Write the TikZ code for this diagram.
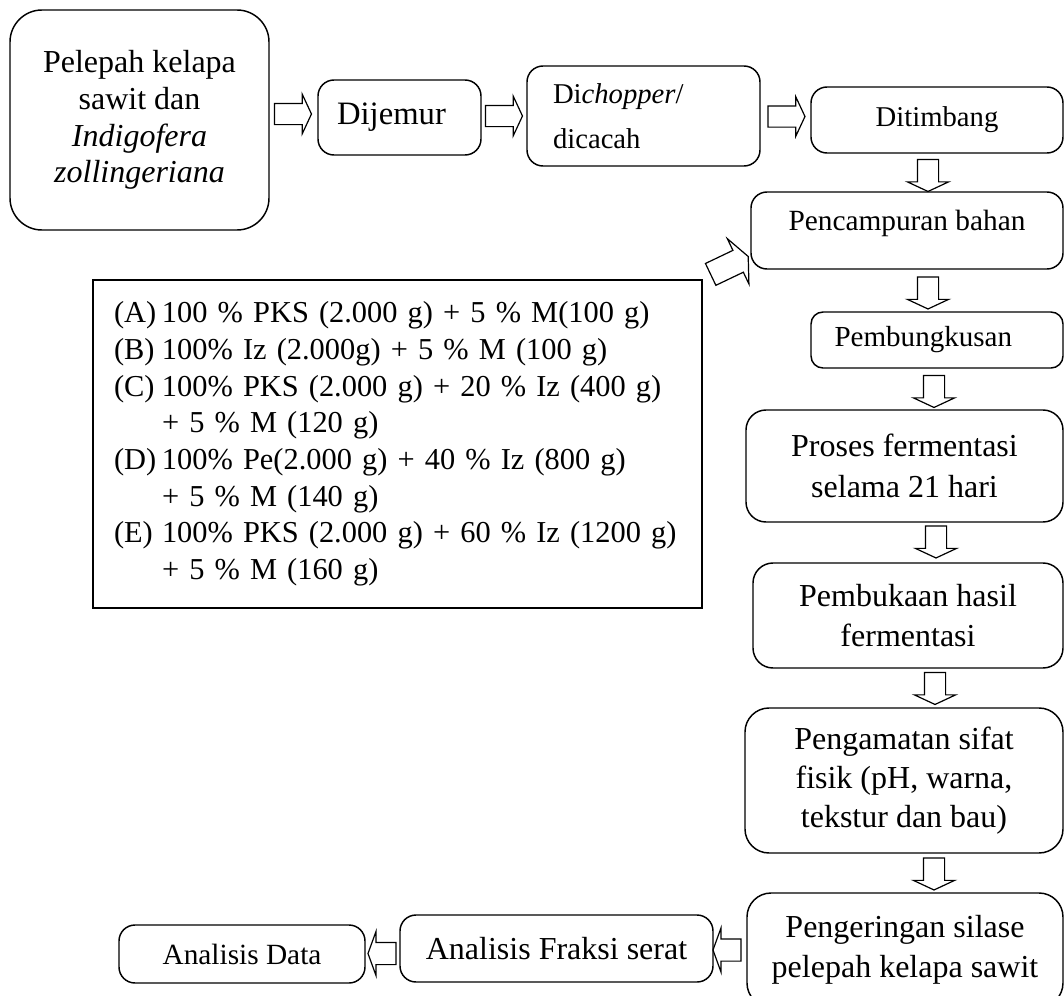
\documentclass[tikz,border=0pt]{standalone}
\usepackage{fontspec}
\setmainfont{Liberation Serif}
\usetikzlibrary{shapes.arrows,positioning}

\tikzset{
  kotak/.style={draw, line width=1.1pt, rounded corners=12pt, align=center, inner sep=0pt},
  panah/.style={single arrow, draw, line width=0.9pt, inner xsep=0pt, single arrow tip angle=130},
  panahh/.style={panah, inner ysep=7.5pt, minimum height=27.75pt, single arrow head extend=6.75pt},
  panahv/.style={panah, rotate=-90, inner ysep=7.5pt, minimum height=24pt, single arrow head extend=7.5pt},
  panahk/.style={panah, shape border rotate=180, single arrow tip angle=140, inner ysep=7.875pt, minimum height=21pt, single arrow head extend=8.25pt},
}

\begin{document}
\begin{tikzpicture}[x=0.75pt,y=0.75pt,yscale=-1,xscale=1]
		\useasboundingbox (0,0) rectangle (1064,996);
		
		%Shape: Rounded Rect [id:pelepah] 
		\node[kotak, rounded corners=24pt, minimum width=194.25pt, minimum height=165pt, font=\fontsize{24}{27.5}\selectfont] (pelepah) at (139.5,120) {Pelepah kelapa\\ sawit dan\\ \textit{Indigofera}\\ \textit{zollingeriana}};
		%Shape: Rounded Rect [id:dijemur] 
		\node[kotak, align=left, text width=93.75pt, minimum width=122.25pt, minimum height=56.25pt, font=\fontsize{24.5}{28}\selectfont] (dijemur) at (399.5,117.5) {Dijemur};
		%Shape: Rounded Rect [id:dicacah] 
		\node[kotak, align=left, text width=135.75pt, minimum width=174.75pt, minimum height=75pt, font=\fontsize{21.5}{34}\selectfont] (dicacah) at (643.5,116) {Di\textit{chopper}/\\ dicacah};
		%Shape: Rounded Rect [id:ditimbang] 
		\node[kotak, minimum width=189pt, minimum height=49.5pt, font=\fontsize{21.5}{25}\selectfont] (ditimbang) at (937,120) {Ditimbang};
		%Shape: Rounded Rect [id:pencampuran] 
		\node[kotak, text depth=16pt, minimum width=234pt, minimum height=57.75pt, font=\fontsize{22}{25}\selectfont] (pencampuran) at (907,230.5) {Pencampuran bahan};
		%Shape: Rounded Rect [id:pembungkusan] 
		\node[kotak, rounded corners=9pt, align=left, text width=153.75pt, minimum width=189pt, minimum height=42pt, font=\fontsize{21.8}{25}\selectfont] (pembungkusan) at (937,340) {Pembungkusan};
		%Shape: Rounded Rect [id:fermentasi] 
		\node[kotak, rounded corners=15pt, minimum width=237.75pt, minimum height=84pt, font=\fontsize{24}{30.5}\selectfont] (fermentasi) at (904.5,466) {Proses fermentasi\\ selama 21 hari};
		%Shape: Rounded Rect [id:pembukaan] 
		\node[kotak, rounded corners=15pt, minimum width=232.5pt, minimum height=78.75pt, font=\fontsize{24}{30}\selectfont] (pembukaan) at (908,615.5) {Pembukaan hasil\\ fermentasi};
		%Shape: Rounded Rect [id:pengamatan] 
		\node[kotak, rounded corners=18pt, minimum width=238.5pt, minimum height=108.75pt, font=\fontsize{24}{29}\selectfont] (pengamatan) at (904,780.5) {Pengamatan sifat\\ fisik (pH, warna,\\ tekstur dan bau)};
		%Shape: Rounded Rect [id:pengeringan] 
		\node[kotak, rounded corners=18pt, minimum width=237pt, minimum height=85.5pt, font=\fontsize{24}{30}\selectfont] (pengeringan) at (905,950) {Pengeringan silase\\ pelepah kelapa sawit};
		%Shape: Rounded Rect [id:fraksi] 
		\node[kotak, minimum width=234.75pt, minimum height=50.25pt, font=\fontsize{24}{28}\selectfont] (fraksi) at (556.5,948.5) {Analisis Fraksi serat};
		%Shape: Rounded Rect [id:data] 
		\node[kotak, minimum width=184.5pt, minimum height=43.5pt, font=\fontsize{22}{25}\selectfont] (data) at (242,954) {Analisis Data};
		
		%Shape: Rectangle [id:bahan] 
		\node[draw, line width=1.1pt, inner sep=0pt, align=left, text width=425.25pt, minimum width=456.75pt, minimum height=246pt, font=\fontsize{22.8}{27.5}\selectfont] (bahan) at (397.5,444) {%
			\mbox{\makebox[36pt][l]{(A)}100 \% PKS (2.000 g) + 5 \% M(100 g)}\\
			\mbox{\makebox[36pt][l]{(B)}100\% Iz (2.000g) + 5 \% M (100 g)}\\
			\mbox{\makebox[36pt][l]{(C)}100\% PKS (2.000 g) + 20 \% Iz (400 g)}\\
			\mbox{\hspace*{36pt}+ 5 \% M (120 g)}\\
			\mbox{\makebox[36pt][l]{(D)}100\% Pe(2.000 g) + 40 \% Iz (800 g)}\\
			\mbox{\hspace*{36pt}+ 5 \% M (140 g)}\\
			\mbox{\makebox[36pt][l]{(E)}100\% PKS (2.000 g) + 60 \% Iz (1200 g)}\\
			\mbox{\hspace*{36pt}+ 5 \% M (160 g)}};
		
		%Block Arrows: top row
		\node[panahh] (a1) at (290.5,114) {};
		\node[panahh] (a2) at (501.5,116) {};
		\node[panahh] (a3) at (784,116.5) {};
		%Block Arrows: right column
		\node[panahv] (v1) at (928,173) {};
		\node[panahv] (v2) at (928,290.5) {};
		\node[panahv] (v3) at (934,389) {};
		\node[panahv] (v4) at (936,539.5) {};
		\node[panahv] (v5) at (935,686) {};
		\node[panahv] (v6) at (934,871.5) {};
		%Block Arrows: bottom row
		\node[panahk] (k1) at (729,950) {};
		\node[panahk] (k2) at (384,953.5) {};
		%Block Arrow: bahan to pencampuran
		\node[panah, rotate=25.5, single arrow tip angle=132, inner ysep=8.625pt, minimum height=31.2pt, single arrow head extend=9.75pt] (d1) at (727,266.6) {};
		
\end{tikzpicture}
\end{document}
